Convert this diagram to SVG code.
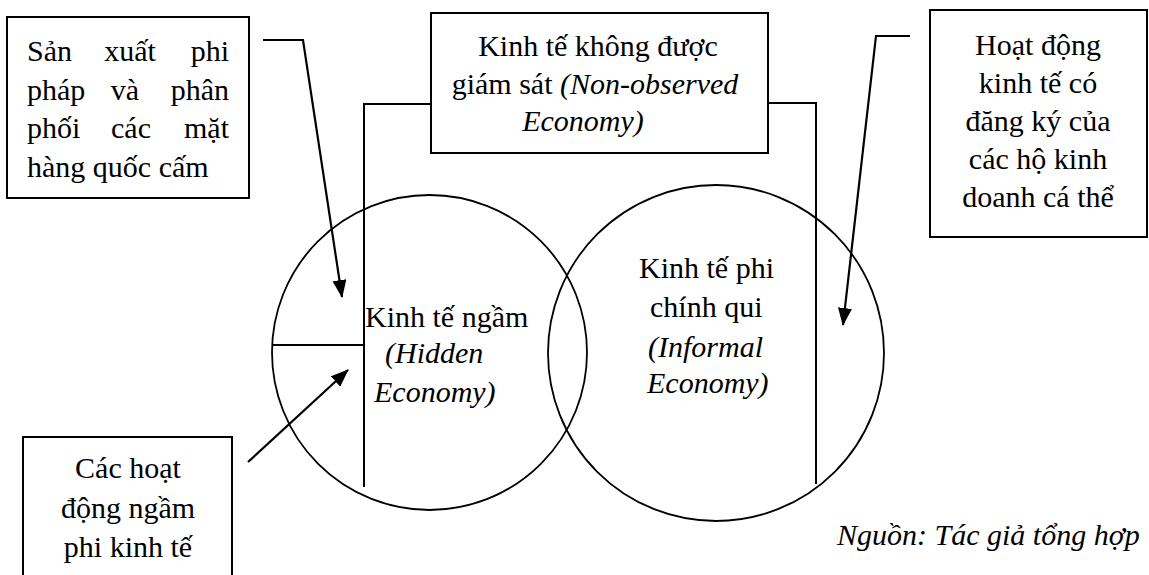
<svg xmlns="http://www.w3.org/2000/svg" width="1149" height="575" viewBox="0 0 1149 575" font-family="Liberation Serif, DejaVu Serif, serif" font-size="30">
<style>
text{fill:#000}
.it{font-style:italic}
.box{fill:#fff;stroke:#000;stroke-width:2}
.ln{fill:none;stroke:#000;stroke-width:2}
.cir{fill:none;stroke:#000;stroke-width:1.8}
.arr{fill:none;stroke:#000;stroke-width:2.2}
.m{text-anchor:middle}
.e{text-anchor:end}
</style>
<defs>
<marker id="ah" markerUnits="userSpaceOnUse" markerWidth="18" markerHeight="14" refX="17" refY="7" orient="auto">
<path d="M0,0 L18,7 L0,14 z" fill="#000"/>
</marker>
</defs>
<rect width="1149" height="575" fill="#fff"/>
<g id="circles">
<circle id="hidden-circle" class="cir" cx="429.5" cy="352.5" r="157.5"/>
<circle id="informal-circle" class="cir" cx="716" cy="353" r="168"/>
</g>
<g id="connectors">
<path class="ln" d="M364,487 L364,104 L431,104"/>
<path class="ln" d="M768,103 L816,103 L816,484"/>
<path class="ln" d="M272,345 L364,345"/>
<path class="arr" d="M263,40 L303,40 L342,297" marker-end="url(#ah)"/>
<path class="arr" d="M248,462 L348,370" marker-end="url(#ah)"/>
<path class="arr" d="M910,36 L876,36 L843,325" marker-end="url(#ah)"/>
</g>
<g id="node-illegal">
<rect class="box" x="7" y="17" width="242" height="181"/>
<text y="61"><tspan x="27">Sản</tspan><tspan x="130" class="m">xuất</tspan><tspan x="229" class="e">phi</tspan></text>
<text y="100"><tspan x="27">pháp</tspan><tspan x="125" class="m">và</tspan><tspan x="229" class="e">phân</tspan></text>
<text y="138"><tspan x="27">phối</tspan><tspan x="131" class="m">các</tspan><tspan x="229" class="e">mặt</tspan></text>
<text x="27" y="177">hàng quốc cấm</text>
</g>
<g id="node-noe">
<rect class="box" x="431" y="13" width="337" height="140"/>
<text class="m" x="598" y="56">Kinh tế không được</text>
<text class="m" x="595" y="94">giám sát <tspan class="it">(Non-observed</tspan></text>
<text class="m it" x="583" y="131">Economy)</text>
</g>
<g id="node-registered">
<rect class="box" x="930" y="10" width="217" height="227"/>
<text class="m" x="1038" y="55">Hoạt động</text>
<text class="m" x="1038" y="93">kinh tế có</text>
<text class="m" x="1038" y="131">đăng ký của</text>
<text class="m" x="1038" y="169">các hộ kinh</text>
<text class="m" x="1038" y="207">doanh cá thể</text>
</g>
<g id="node-nonecon">
<rect class="box" x="23" y="437" width="209" height="150"/>
<text class="m" x="128" y="478">Các hoạt</text>
<text class="m" x="128" y="518">động ngầm</text>
<text class="m" x="128" y="557">phi kinh tế</text>
</g>
<g id="node-hidden">
<text x="365" y="327">Kinh tế ngầm</text>
<text class="it" x="385" y="363">(Hidden</text>
<text class="it" x="374" y="402">Economy)</text>
</g>
<g id="node-informal">
<text x="639" y="278">Kinh tế phi</text>
<text x="650" y="317">chính qui</text>
<text class="it" x="648" y="357">(Informal</text>
<text class="it" x="647" y="393">Economy)</text>
</g>
<text id="source" class="it" x="837" y="545">Nguồn: Tác giả tổng hợp</text>
</svg>
